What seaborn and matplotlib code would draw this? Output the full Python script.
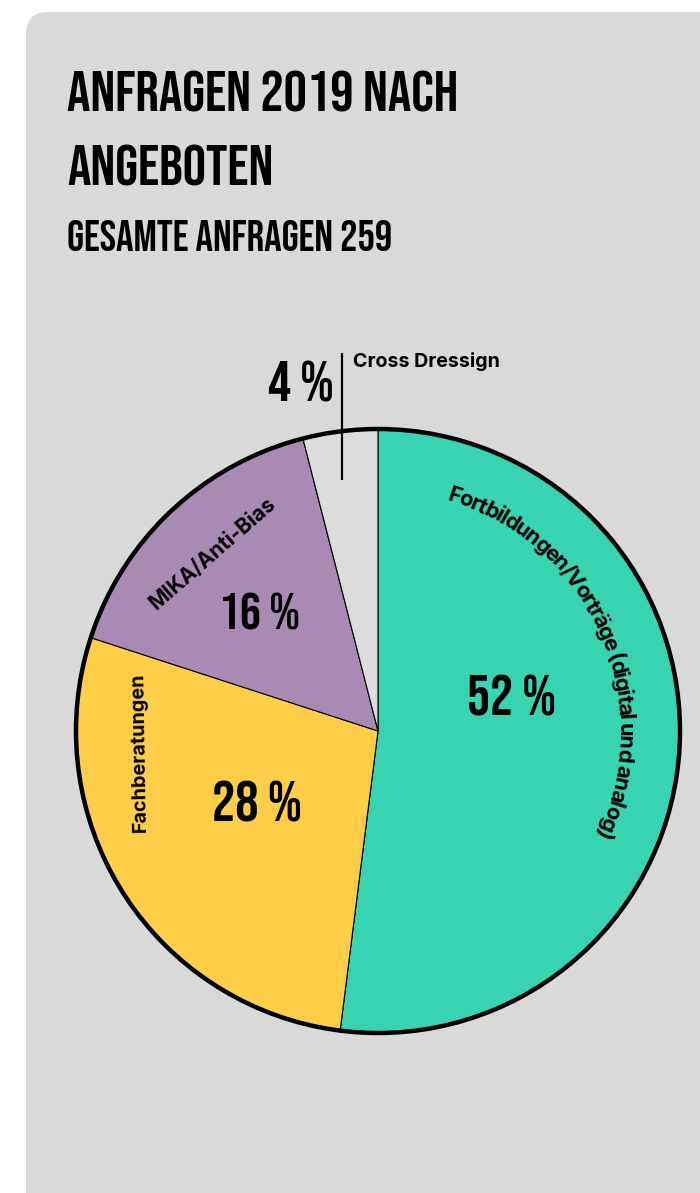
import numpy as np
import pandas as pd
import seaborn as sns
import matplotlib
matplotlib.use("Agg")
import matplotlib.pyplot as plt
from matplotlib.patches import FancyBboxPatch, Circle
from matplotlib.font_manager import FontProperties
from matplotlib.textpath import TextToPath

# ---------------- data ----------------
categories = ["Fortbildungen/Vorträge (digital und analog)", "Fachberatungen",
              "MIKA/Anti-Bias", "Cross Dressign"]
shares = [52, 28, 16, 4]
pct_labels = ["52 %", "28 %", "16 %", "4 %"]
colors = ["#38D3B0", "#FECE48", "#A98AB5", "#DCDCDC"]
title_lines = ["ANFRAGEN 2019 NACH", "ANGEBOTEN"]
subtitle = "GESAMTE ANFRAGEN 259"

# ---------------- layout (pixels from top-left) ----------------
W, H = 700, 1193
PX = 100 / 72.0  # px per pt

sns.set_theme(style="white")
plt.rcParams['font.family'] = ['Inter', 'DejaVu Sans']

fp_head = FontProperties(family=['Bebas Neue', 'Antonio', 'DejaVu Sans'], weight='bold')
fp_lab = FontProperties(family=['Inter', 'DejaVu Sans'], weight='bold')
ttp = TextToPath()


def ink_w(s, fp, size):
    f = fp.copy()
    f.set_size(size)
    return ttp.get_text_width_height_descent(s, f, ismath=False)[0] * PX


def fit(s, fp, target_px):
    return 20.0 * target_px / ink_w(s, fp, 20.0)


def Y(ypix):
    return H - ypix


fig = plt.figure(figsize=(7, 11.93), dpi=100)
fig.patch.set_facecolor("white")
ax = fig.add_axes([0, 0, 1, 1])

# card background
ax.add_patch(FancyBboxPatch((26, -40), 760, H - 12 + 40,
                            boxstyle="round,pad=0,rounding_size=22",
                            fc="#D9D9D9", ec="none", zorder=0))

# ---------------- pie ----------------
cx, cy, R = 378, Y(731), 302
df = pd.DataFrame({"cat": categories, "share": shares, "color": colors})
ax.pie(df["share"], colors=df["color"], startangle=90, counterclock=False,
       center=(cx, cy), radius=R,
       wedgeprops=dict(edgecolor="black", linewidth=0.8))
ax.add_patch(Circle((cx, cy), R, fill=False, ec="black", lw=3.2, zorder=5))
ax.set_xlim(0, W)
ax.set_ylim(0, H)
ax.set_aspect("equal")
ax.axis("off")

# ---------------- titles ----------------
s1 = fit(title_lines[0], fp_head, 392)
ax.text(67, Y(111), title_lines[0], fontproperties=fp_head, fontsize=s1,
        ha="left", va="baseline", color="black")
ax.text(67, Y(186), title_lines[1], fontproperties=fp_head, fontsize=s1,
        ha="left", va="baseline", color="black")
s2 = fit(subtitle, fp_head, 326)
ax.text(67, Y(251), subtitle, fontproperties=fp_head, fontsize=s2,
        ha="left", va="baseline", color="black")

# ---------------- percentage labels ----------------
pct_pos = [(511.5, 716, 89), (256.5, 821, 90), (259.5, 629, 81), (301, 401, 66)]
for lab, (x, y, wpx) in zip(pct_labels, pct_pos):
    ax.text(x, Y(y), lab, fontproperties=fp_head, fontsize=fit(lab, fp_head, wpx),
            ha="center", va="baseline", color="black", zorder=6)

# ---------------- category labels ----------------
lab_size = fit(categories[2], fp_lab, 160)


def arc_text(s, th0, th1, rb, fp, size):
    """place characters along a circle around the pie centre (clockwise from top)"""
    centers = []
    for i, ch in enumerate(s):
        centers.append(ink_w(s[:i + 1], fp, size) - ink_w(ch, fp, size) / 2 if ch != " "
                       else ink_w(s[:i + 1] + "l", fp, size) - ink_w("l", fp, size))
    c = np.array(centers) - centers[0]
    span = rb * np.deg2rad(th1 - th0)
    t = (span - c[-1]) / (len(s) - 1)
    for i, ch in enumerate(s):
        if ch == " ":
            continue
        th = np.deg2rad(th0) + (c[i] + i * t) / rb
        ax.text(cx + rb * np.sin(th), cy + rb * np.cos(th), ch, fontproperties=fp,
                fontsize=size, rotation=-np.rad2deg(th), rotation_mode="anchor",
                ha="center", va="baseline", color="black", zorder=6)


arc_text(categories[0], 18.0, 114.4, 241, fp_lab, lab_size * 1.04)


def polar_text(s, th_deg, r, rot, size):
    th = np.deg2rad(th_deg)
    ax.text(cx + r * np.sin(th), cy + r * np.cos(th), s, fontproperties=fp_lab,
            fontsize=size, rotation=rot, rotation_mode="anchor",
            ha="center", va="center", color="black", zorder=6)


polar_text(categories[1], 265.0, 240, 91.0, fit(categories[1], fp_lab, 160))
polar_text(categories[2], -43.0, 243, 41.0, lab_size)

# Cross Dressign: leader line + label
mid4 = np.deg2rad(360 - 0.5 * shares[3] / 100 * 360)
lx = cx + R * np.sin(mid4) + 2
ax.plot([lx, lx], [Y(480), Y(353)], color="black", lw=1.6, solid_capstyle="butt", zorder=7)
ax.text(353, Y(367), categories[3], fontproperties=fp_lab,
        fontsize=fit(categories[3], fp_lab, 147), ha="left", va="baseline", color="black")

fig.savefig("out.png", dpi=100)
